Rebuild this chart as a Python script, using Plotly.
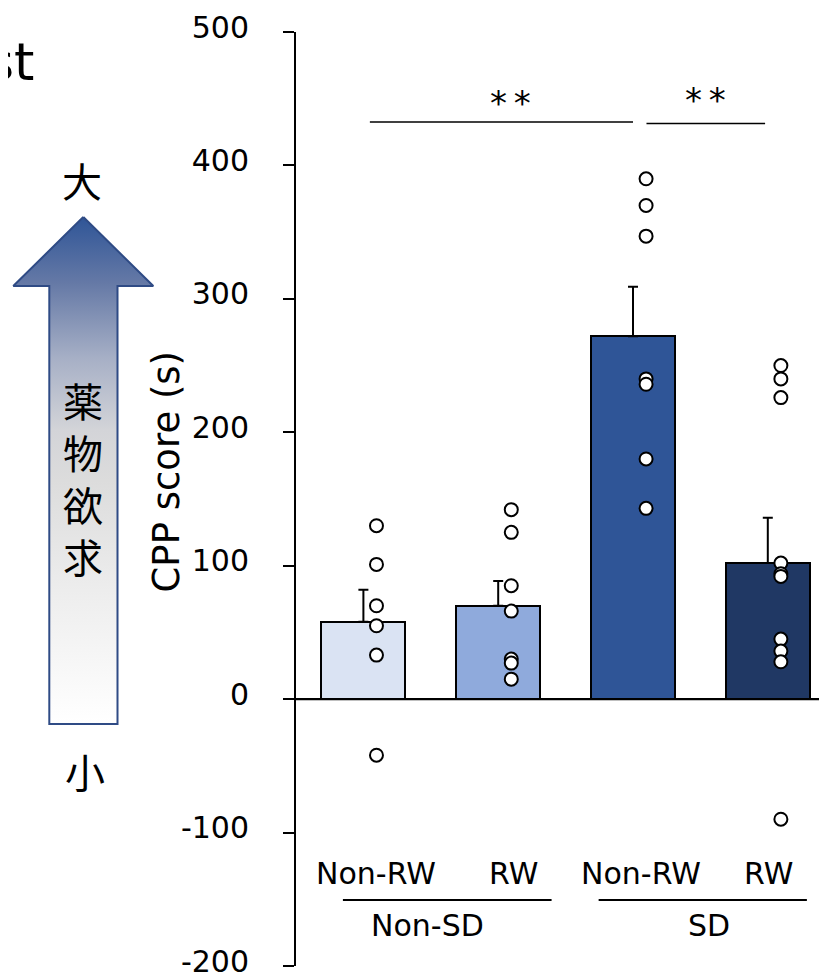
import plotly.graph_objects as go

# ---------------- data ----------------
groups = ["Non-SD", "SD"]
conditions = ["Non-RW", "RW", "Non-RW", "RW"]
means = [58, 70, 272, 102]
sems = [24, 18.5, 37, 34]
points = [
    [130, 101, 70, 55, 33, -42],
    [142, 125, 85, 66, 30, 27, 15],
    [390, 370, 347, 240, 236, 180, 143],
    [250, 240, 226, 102, 94, 92, 45, 36, 28, -90],
]
bar_colors = ["#DAE3F3", "#8FAADC", "#2F5597", "#203864"]
tick_vals = [-200, -100, 0, 100, 200, 300, 400, 500]
tick_text = ["-200", "-100", "0", "100", "200", "300", "400", "500"]
y_title = "CPP score (s)"
sig_text = "*\u2009*"

W, H = 827, 975
FONT = "DejaVu Sans"
JP = "Noto Sans CJK JP"

# mapping from target page pixels to paper fractions (page body offset)
OX, OY, PH = 8.0, 8.0, 975.0


def fx(x):
    return (x - OX) / W


def fy(y):
    return 1 - (y - OY) / PH


fig = go.Figure()

# decorative arrow drawn in a paper-fraction overlay
ax_pts = [(83.3, 217), (153.3, 286), (117.5, 286), (117.5, 724),
          (49.3, 724), (49.3, 286), (13.3, 286), (83.3, 217)]
fig.add_trace(go.Scatter(
    x=[fx(p[0]) for p in ax_pts], y=[fy(p[1]) for p in ax_pts],
    xaxis="x2", yaxis="y2", mode="lines", fill="toself",
    line=dict(color="#2F4B85", width=2),
    fillgradient=dict(type="vertical", start=fy(724), stop=fy(217),
                      colorscale=[[0, "#FFFFFF"], [0.25, "#EEEEEE"],
                                  [0.48, "#DCDCDC"], [0.58, "#D3D4D8"],
                                  [0.72, "#A7B0C6"], [0.87, "#6579A6"],
                                  [1, "#2F5597"]]),
    showlegend=False, hoverinfo="skip",
))

# bars with upward SEM
fig.add_trace(go.Bar(
    x=list(range(len(means))), y=means, width=0.623,
    marker=dict(color=bar_colors, line=dict(color="black", width=2)),
    error_y=dict(type="data", symmetric=False, array=sems,
                 arrayminus=[0] * len(sems), color="black",
                 thickness=2, width=5),
    showlegend=False, hoverinfo="skip",
))

# individual points
dot_off = 0.097
for i, vals in enumerate(points):
    fig.add_trace(go.Scatter(
        x=[i + dot_off] * len(vals), y=vals, mode="markers",
        marker=dict(symbol="circle", size=13, color="white",
                    line=dict(color="black", width=2)),
        showlegend=False, hoverinfo="skip",
    ))

# layout geometry (target pixels)
y_top_px, y_bot_px = 32, 966
x_axis_px = 296
x_left = -0.5
x_right = x_left + (W + OX - x_axis_px) / 134.8

fig.update_layout(
    width=W, height=H,
    margin=dict(l=0, r=0, t=0, b=0, pad=0, autoexpand=False),
    paper_bgcolor="white", plot_bgcolor="rgba(0,0,0,0)",
    font=dict(family=FONT, color="black", size=30),
    bargap=0,
    xaxis=dict(domain=[fx(x_axis_px), 1.0], range=[x_left, x_right],
               showgrid=False, zeroline=False, showline=False,
               showticklabels=False, ticks="", fixedrange=True,
               automargin=False),
    yaxis=dict(domain=[fy(y_bot_px), fy(y_top_px)], range=[-200, 500],
               tickmode="array", tickvals=tick_vals, ticktext=tick_text,
               showgrid=False, zeroline=True, zerolinecolor="black",
               zerolinewidth=2, showline=True, linecolor="black",
               linewidth=2, ticks="outside", ticklen=11, tickwidth=2,
               tickcolor="black", ticklabelstandoff=28, ticklabelshift=-5,
               ticklabeloverflow="allow", automargin=False,
               tickfont=dict(family=FONT, size=30, color="black"),
               fixedrange=True),
    xaxis2=dict(domain=[0, 1], range=[0, 1], visible=False, anchor="y2",
                fixedrange=True, automargin=False),
    yaxis2=dict(domain=[0, 1], range=[0, 1], visible=False, anchor="x2",
                fixedrange=True, automargin=False),
)

ann = []
# y title
ann.append(dict(text=y_title, x=fx(166), y=fy(471.5), xref="paper",
                yref="paper", textangle=-90, showarrow=False,
                font=dict(family=FONT, size=37, color="black"),
                xanchor="center", yanchor="middle"))
# condition labels
lab_x = [0.093, 1.116, 2.057, 3.007]
for i, c in enumerate(conditions):
    ann.append(dict(text=c, x=lab_x[i], y=-131, xref="x", yref="y",
                    showarrow=False, font=dict(family=FONT, size=30),
                    xanchor="center", yanchor="middle"))
# group labels
grp_x = [0.479, 2.567]
for i, g in enumerate(groups):
    ann.append(dict(text=g, x=grp_x[i], y=-170, xref="x", yref="y",
                    showarrow=False, font=dict(family=FONT, size=30),
                    xanchor="center", yanchor="middle"))
# significance stars
for sx, sy in [(1.094, 447), (2.537, 449)]:
    ann.append(dict(text=sig_text, x=sx, y=sy, xref="x", yref="y",
                    showarrow=False, font=dict(family=FONT, size=34),
                    xanchor="center", yanchor="middle"))
# japanese labels
ann.append(dict(text="大", x=fx(82), y=fy(180), xref="paper", yref="paper",
                showarrow=False, font=dict(family=JP, size=40),
                xanchor="center", yanchor="middle"))
ann.append(dict(text="小", x=fx(85), y=fy(771), xref="paper", yref="paper",
                showarrow=False, font=dict(family=JP, size=40),
                xanchor="center", yanchor="middle"))
ann.append(dict(text="薬<br>物<br>欲<br>求", x=fx(83), y=fy(478),
                xref="paper", yref="paper", showarrow=False,
                font=dict(family=JP, size=40), xanchor="center",
                yanchor="middle"))
# clipped title fragment
ann.append(dict(text="st", x=fx(36), y=fy(62), xref="paper", yref="paper",
                showarrow=False, font=dict(family=FONT, size=52),
                xanchor="right", yanchor="middle"))
fig.update_layout(annotations=ann)

shapes = []
# baseline extended to the right edge
shapes.append(dict(type="line", xref="paper", yref="y", x0=fx(x_axis_px),
                   x1=1.05, y0=0, y1=0, line=dict(color="black", width=2)))
# significance lines
shapes.append(dict(type="line", xref="x", yref="y", x0=0.048, x1=2.0,
                   y0=432.5, y1=432.5, line=dict(color="black", width=1.5)))
shapes.append(dict(type="line", xref="x", yref="y", x0=2.10, x1=2.98,
                   y0=431.5, y1=431.5, line=dict(color="black", width=1.5)))
# group underlines
shapes.append(dict(type="line", xref="x", yref="y", x0=-0.152, x1=1.396,
                   y0=-150.6, y1=-150.6, line=dict(color="black", width=2)))
shapes.append(dict(type="line", xref="x", yref="y", x0=1.745, x1=3.29,
                   y0=-150.6, y1=-150.6, line=dict(color="black", width=2)))
fig.update_layout(shapes=shapes)

fig.write_html("out.html")
